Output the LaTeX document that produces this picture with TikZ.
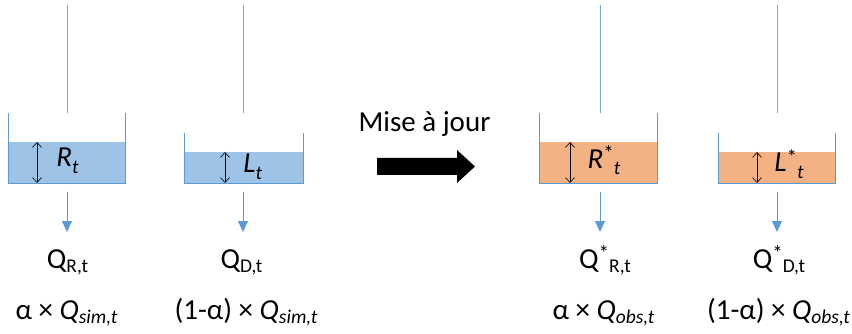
\documentclass[tikz,border=0pt]{standalone}
\usepackage{fontspec}
\setmainfont{Carlito}
\usetikzlibrary{arrows.meta}
\definecolor{wallc}{HTML}{5B9BD5}
\definecolor{bluew}{HTML}{9DC3E6}
\definecolor{orangew}{HTML}{F4B183}
\newcommand{\lowsub}[1]{\raisebox{-6.5pt}{\fontsize{19.5}{21}\selectfont #1}}
\newcommand{\qsub}[1]{\raisebox{-4pt}{\fontsize{19.5}{21}\selectfont #1}}
\newcommand{\hisup}[1]{\raisebox{8pt}{\fontsize{21}{23}\selectfont #1}}
\begin{document}
\begin{tikzpicture}[x=1pt,y=-1pt,
  wallline/.style={draw=wallc,line width=0.8pt},
  flowline/.style={draw=wallc!85,line width=0.9pt},
  outflow/.style={draw=wallc,line width=0.9pt,-{Triangle[width=10pt,length=11pt]}},
  level/.style={draw=black,line width=0.6pt,{Straight Barb[length=5pt,width=9pt]}-{Straight Barb[length=5pt,width=9pt]}},
  lbl/.style={inner sep=0pt,anchor=base,font=\fontsize{29}{33}\selectfont},
]
\useasboundingbox (0,0) rectangle (852,334);
% ---------- tanks ----------
% tank 1
\fill[bluew] (8,142) rectangle (125,183);
\draw[wallline] (8,113) -- (8,183) -- (125,183) -- (125,113);
% tank 2
\fill[bluew] (184,152) rectangle (303,183);
\draw[wallline] (184,133) -- (184,183) -- (303,183) -- (303,133);
% tank 3
\fill[orangew] (539,142) rectangle (657,183);
\draw[wallline] (539,113) -- (539,183) -- (657,183) -- (657,113);
% tank 4
\fill[orangew] (718,152) rectangle (835,183);
\draw[wallline] (718,133) -- (718,183) -- (835,183) -- (835,133);
% ---------- inflows / outflows ----------
\foreach \n/\x in {a/67,b/243,c/600,d/777}{
  \coordinate (in\n top) at (\x,5);
  \coordinate (in\n bot) at (\x,113);
  \coordinate (out\n top) at (\x,192);
  \coordinate (out\n bot) at (\x,232);
  \draw[flowline] (in\n top) -- (in\n bot);
  \draw[outflow] (out\n top) -- (out\n bot);
}
% ---------- level arrows ----------
\coordinate (lva) at (37,142);  \coordinate (lvab) at (37,183);
\coordinate (lvb) at (225,152); \coordinate (lvbb) at (225,183);
\coordinate (lvc) at (570,142); \coordinate (lvcb) at (570,183);
\coordinate (lvd) at (757,152); \coordinate (lvdb) at (757,183);
\draw[level] (lva) -- (lvab);
\draw[level] (lvb) -- (lvbb);
\draw[level] (lvc) -- (lvcb);
\draw[level] (lvd) -- (lvdb);
% ---------- storage labels ----------
\node[lbl] (Rt) at (67.5,167) {\textit{R}\lowsub{\textit{t}}};
\node[lbl] (Lt) at (252.7,173) {\textit{L}\lowsub{\textit{t}}};
\node[lbl] (Rst) at (604,168) {\textit{R}\hisup{*}\lowsub{\textit{t}}};
\node[lbl] (Lst) at (789,172) {\textit{L}\hisup{*}\lowsub{\textit{t}}};
% ---------- flow labels ----------
\node[lbl] (QR) at (67.5,268) {Q\qsub{R,t}};
\node[lbl] (QD) at (241.5,268) {Q\qsub{D,t}};
\node[lbl] (QRs) at (605,268) {Q\hisup{*}\qsub{R,t}};
\node[lbl] (QDs) at (779,268) {Q\hisup{*}\qsub{D,t}};
\node[lbl] (FR) at (66.5,319) {α × \textit{Q}\qsub{\textit{sim,t}}};
\node[lbl] (FD) at (246,319) {(1-α) × \textit{Q}\qsub{\textit{sim,t}}};
\node[lbl] (FRs) at (603.5,319) {α × \textit{Q}\qsub{\textit{obs,t}}};
\node[lbl] (FDs) at (778.5,319) {(1-α) × \textit{Q}\qsub{\textit{obs,t}}};
% ---------- update arrow ----------
\node[lbl] (maj) at (424.5,132) {Mise à jour};
\fill[black] (377,158) -- (457,158) -- (457,150) -- (475,166.5) -- (457,183) -- (457,175) -- (377,175) -- cycle;
\end{tikzpicture}
\end{document}
